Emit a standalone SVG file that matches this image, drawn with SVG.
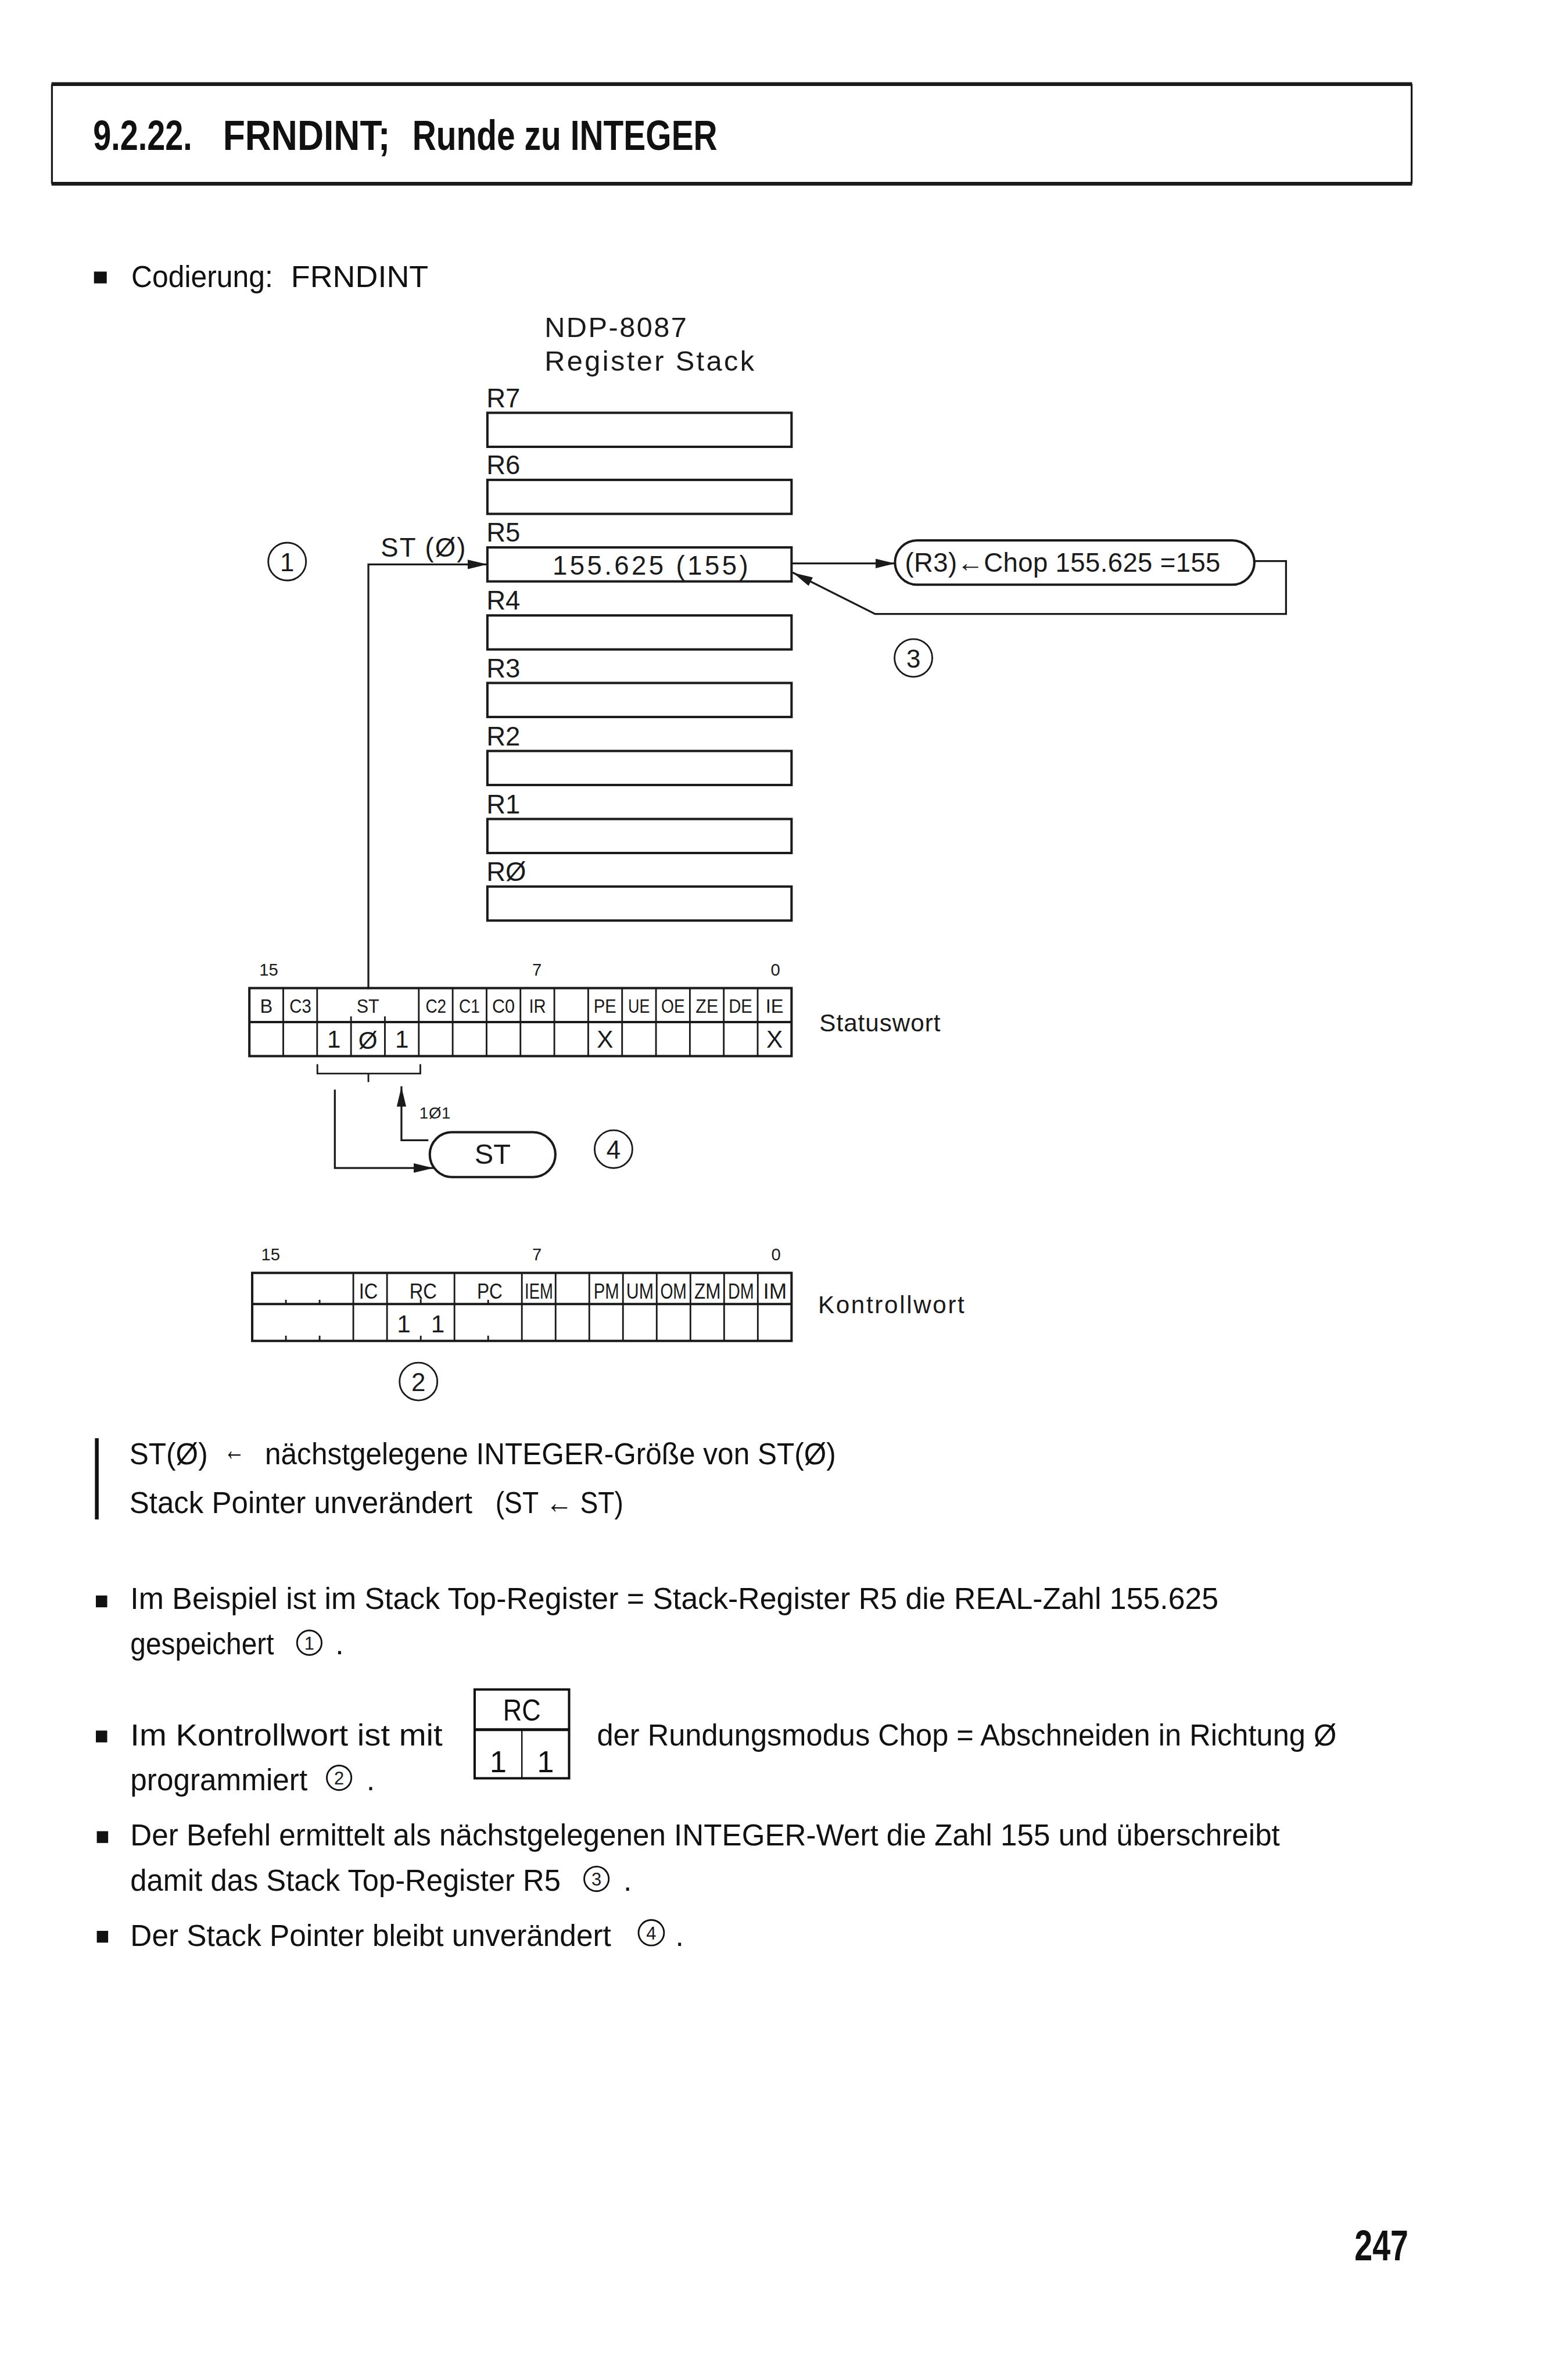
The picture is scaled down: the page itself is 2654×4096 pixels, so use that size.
<svg xmlns="http://www.w3.org/2000/svg" width="2654" height="4096" viewBox="0 0 2654 4096">
<defs>
<style>
.ln{fill:none;stroke:#1a1a1a;stroke-width:4;stroke-linecap:square}
.bx{fill:#fff;stroke:#1a1a1a;stroke-width:5}
.thin{fill:none;stroke:#1a1a1a;stroke-width:3.5}
.d{font-family:"Liberation Sans",Arial,sans-serif;fill:#1a1a1a}
.b{font-family:"Liberation Sans",Arial,sans-serif;fill:#111;font-size:64px}
.tt{font-family:"Liberation Sans",Arial,sans-serif;font-weight:bold;fill:#111}
.c{text-anchor:middle}
</style>
<marker id="ah" viewBox="0 0 42 20" refX="41" refY="10" markerWidth="42" markerHeight="20" orient="auto" markerUnits="userSpaceOnUse"><path d="M0,0 L42,10 L0,20 z" fill="#1a1a1a"/></marker>
</defs>
<rect width="2654" height="4096" fill="#fff"/>
<g transform="scale(0.812864)">

<g id="title">
<line x1="109" y1="178" x2="2990" y2="178" stroke="#1a1a1a" stroke-width="8"/>
<line x1="109" y1="389" x2="2990" y2="389" stroke="#1a1a1a" stroke-width="8"/>
<line x1="110" y1="178" x2="110" y2="389" stroke="#1a1a1a" stroke-width="4"/>
<line x1="2989" y1="178" x2="2989" y2="389" stroke="#1a1a1a" stroke-width="4"/>
<text class="tt" x="197" y="318" font-size="90" textLength="210" lengthAdjust="spacingAndGlyphs">9.2.22.</text>
<text class="tt" x="472" y="318" font-size="90" textLength="354" lengthAdjust="spacingAndGlyphs">FRNDINT;</text>
<text class="tt" x="873" y="318" font-size="90" textLength="646" lengthAdjust="spacingAndGlyphs">Runde zu INTEGER</text>
</g>

<g id="codierung">
<rect x="199" y="575" width="27" height="25" fill="#111"/>
<text class="b" x="278" y="608" textLength="300" lengthAdjust="spacingAndGlyphs">Codierung:</text>
<text class="b" x="616" y="608" textLength="291" lengthAdjust="spacingAndGlyphs">FRNDINT</text>
</g>

<g id="stack-title">
<text class="d" x="1153" y="713" font-size="60" textLength="301" lengthAdjust="spacing">NDP-8087</text>
<text class="d" x="1153" y="785" font-size="60" textLength="444" lengthAdjust="spacing">Register Stack</text>
</g>

<g id="reg-R7"><text class="d" x="1030" y="862" font-size="56">R7</text><rect class="bx" x="1032" y="874" width="644" height="72"/></g>
<g id="reg-R6"><text class="d" x="1030" y="1004" font-size="56">R6</text><rect class="bx" x="1032" y="1016" width="644" height="72"/></g>
<g id="reg-R5"><text class="d" x="1030" y="1147" font-size="56">R5</text><rect class="bx" x="1032" y="1159" width="644" height="72"/>
<text class="d" x="1170" y="1217" font-size="56" textLength="414" lengthAdjust="spacing">155.625 (155)</text></g>
<g id="reg-R4"><text class="d" x="1030" y="1291" font-size="56">R4</text><rect class="bx" x="1032" y="1303" width="644" height="72"/></g>
<g id="reg-R3"><text class="d" x="1030" y="1434" font-size="56">R3</text><rect class="bx" x="1032" y="1446" width="644" height="72"/></g>
<g id="reg-R2"><text class="d" x="1030" y="1578" font-size="56">R2</text><rect class="bx" x="1032" y="1590" width="644" height="72"/></g>
<g id="reg-R1"><text class="d" x="1030" y="1722" font-size="56">R1</text><rect class="bx" x="1032" y="1734" width="644" height="72"/></g>
<g id="reg-R0"><text class="d" x="1030" y="1865" font-size="56">RØ</text><rect class="bx" x="1032" y="1877" width="644" height="72"/></g>

<g id="st0-label"><text class="d" x="806" y="1178" font-size="56" textLength="180" lengthAdjust="spacing">ST (Ø)</text></g>
<g id="mark1"><circle cx="608" cy="1189" r="40" class="thin"/><text class="d c" x="608" y="1209" font-size="54">1</text></g>

<g id="chop-op"><rect class="bx" x="1895" y="1144" width="761" height="94" rx="47" ry="47" stroke-width="4"/>
<text class="d" x="1916" y="1211" font-size="56" textLength="668" lengthAdjust="spacing">(R3)←Chop 155.625 =155</text></g>
<g id="mark3"><circle cx="1934" cy="1393" r="40" class="thin"/><text class="d c" x="1934" y="1413" font-size="54">3</text></g>

<g id="statuswort">
<text class="d c" x="569" y="2066" font-size="36">15</text>
<text class="d c" x="1137" y="2066" font-size="36">7</text>
<text class="d c" x="1642" y="2066" font-size="36">0</text>
<rect class="bx" x="528" y="2092" width="1148" height="144"/>
<line x1="528" y1="2164" x2="1676" y2="2164" stroke="#1a1a1a" stroke-width="5"/>
<path class="thin" d="M599.75,2092V2236 M671.5,2092V2236 M743.25,2152V2236 M815,2152V2236 M886.75,2092V2236 M958.5,2092V2236 M1030.25,2092V2236 M1102,2092V2236 M1173.75,2092V2236 M1245.5,2092V2236 M1317.25,2092V2236 M1389,2092V2236 M1460.75,2092V2236 M1532.5,2092V2236 M1604.25,2092V2236"/>
<g class="d c" font-size="40">
<text x="564" y="2144">B</text><text x="636" y="2144" textLength="46" lengthAdjust="spacingAndGlyphs">C3</text><text x="779" y="2144" textLength="48" lengthAdjust="spacingAndGlyphs">ST</text>
<text x="923" y="2144" textLength="44" lengthAdjust="spacingAndGlyphs">C2</text><text x="994" y="2144" textLength="44" lengthAdjust="spacingAndGlyphs">C1</text><text x="1066" y="2144" textLength="48" lengthAdjust="spacingAndGlyphs">C0</text><text x="1138" y="2144" textLength="36" lengthAdjust="spacingAndGlyphs">IR</text>
<text x="1281" y="2144" textLength="48" lengthAdjust="spacingAndGlyphs">PE</text><text x="1353" y="2144" textLength="46" lengthAdjust="spacingAndGlyphs">UE</text><text x="1425" y="2144" textLength="50" lengthAdjust="spacingAndGlyphs">OE</text><text x="1497" y="2144" textLength="48" lengthAdjust="spacingAndGlyphs">ZE</text><text x="1568" y="2144" textLength="50" lengthAdjust="spacingAndGlyphs">DE</text><text x="1640" y="2144" textLength="38" lengthAdjust="spacingAndGlyphs">IE</text>
</g>
<g class="d c" font-size="52">
<text x="707" y="2218">1</text><text x="779" y="2220">Ø</text><text x="851" y="2218">1</text>
<text x="1281" y="2218">X</text><text x="1640" y="2218">X</text>
</g>
<text class="d" x="1735" y="2184" font-size="52" textLength="256" lengthAdjust="spacing">Statuswort</text>
</g>

<g id="st-bracket"><path class="thin" d="M672,2253V2273H890V2253 M780,2273V2291"/>
<text class="d" x="888" y="2368" font-size="34" textLength="66" lengthAdjust="spacing">1Ø1</text></g>

<g id="st-op"><rect class="bx" x="910" y="2397" width="266" height="95" rx="47.5" ry="47.5" stroke-width="4"/>
<text class="d c" x="1043" y="2464" font-size="60">ST</text></g>
<g id="mark4"><circle cx="1299" cy="2433" r="40" class="thin"/><text class="d c" x="1299" y="2453" font-size="54">4</text></g>

<g id="kontrollwort">
<text class="d c" x="573" y="2668" font-size="36">15</text>
<text class="d c" x="1137" y="2668" font-size="36">7</text>
<text class="d c" x="1643" y="2668" font-size="36">0</text>
<rect class="bx" x="534" y="2695" width="1142" height="144"/>
<line x1="534" y1="2761" x2="1676" y2="2761" stroke="#1a1a1a" stroke-width="5"/>
<path class="thin" d="M748.1,2695V2839 M819.5,2695V2839 M962.25,2695V2839 M1105,2695V2839 M1176.4,2695V2839 M1247.75,2695V2839 M1319.1,2695V2839 M1390.5,2695V2839 M1461.9,2695V2839 M1533.25,2695V2839 M1604.6,2695V2839"/>
<path class="thin" d="M605.4,2752V2761 M676.75,2752V2761 M890.9,2750V2761 M1033.6,2752V2761 M605.4,2828V2839 M676.75,2828V2839 M890.9,2828V2839 M1033.6,2828V2839"/>
<g class="d c" font-size="46">
<text x="780" y="2749" textLength="40" lengthAdjust="spacingAndGlyphs">IC</text><text x="896" y="2749" textLength="58" lengthAdjust="spacingAndGlyphs">RC</text><text x="1037" y="2749" textLength="54" lengthAdjust="spacingAndGlyphs">PC</text><text x="1141" y="2749" textLength="60" lengthAdjust="spacingAndGlyphs">IEM</text>
<text x="1284" y="2749" textLength="54" lengthAdjust="spacingAndGlyphs">PM</text><text x="1355" y="2749" textLength="58" lengthAdjust="spacingAndGlyphs">UM</text><text x="1426" y="2749" textLength="56" lengthAdjust="spacingAndGlyphs">OM</text><text x="1498" y="2749" textLength="56" lengthAdjust="spacingAndGlyphs">ZM</text><text x="1569" y="2749" textLength="55" lengthAdjust="spacingAndGlyphs">DM</text><text x="1641" y="2749" textLength="50" lengthAdjust="spacingAndGlyphs">IM</text>
</g>
<g class="d c" font-size="52"><text x="855" y="2821">1</text><text x="927" y="2821">1</text></g>
<text class="d" x="1732" y="2780" font-size="52" textLength="310" lengthAdjust="spacing">Kontrollwort</text>
</g>
<g id="mark2"><circle cx="886" cy="2925" r="40" class="thin"/><text class="d c" x="886" y="2945" font-size="54">2</text></g>

<g id="connectors">
<path class="ln" d="M780,2092V1195H1031" marker-end="url(#ah)" stroke-width="3.5"/>
<path class="ln" d="M1677,1193H1895" marker-end="url(#ah)" stroke-width="3.5"/>
<path class="ln" d="M2656,1188H2723V1300H1853L1680,1213" marker-end="url(#ah)" stroke-width="3.5" stroke-linejoin="miter"/>
<path class="ln" d="M709,2309V2473H917" marker-end="url(#ah)" stroke-width="3.5"/>
<path class="ln" d="M905,2414H850V2302" marker-end="url(#ah)" stroke-width="3.5"/>
</g>

<g id="text-formula">
<rect x="201" y="3045" width="8" height="172" fill="#111"/>
<text class="b" x="274" y="3100" textLength="166" lengthAdjust="spacingAndGlyphs">ST(Ø)</text>
<text class="b" x="474" y="3092" font-size="48" textLength="44" lengthAdjust="spacingAndGlyphs">←</text>
<text class="b" x="561" y="3100" textLength="1209" lengthAdjust="spacingAndGlyphs">nächstgelegene INTEGER-Größe von ST(Ø)</text>
<text class="b" x="274" y="3203" textLength="726" lengthAdjust="spacingAndGlyphs">Stack Pointer unverändert</text>
<text class="b" x="1049" y="3203" textLength="271" lengthAdjust="spacingAndGlyphs">(ST ← ST)</text>
</g>

<g id="bullet1">
<rect x="203" y="3378" width="24" height="25" fill="#111"/>
<text class="b" x="276" y="3407" textLength="2304" lengthAdjust="spacingAndGlyphs">Im Beispiel ist im Stack Top-Register = Stack-Register R5 die REAL-Zahl 155.625</text>
<text class="b" x="276" y="3503" textLength="304" lengthAdjust="spacingAndGlyphs">gespeichert</text>
<circle cx="655" cy="3478" r="26" fill="none" stroke="#111" stroke-width="3.5"/><text class="d c" x="655" y="3492" font-size="38">1</text>
<text class="b" x="710" y="3503">.</text>
</g>

<g id="bullet2">
<rect x="203" y="3664" width="24" height="25" fill="#111"/>
<text class="b" x="276" y="3695" textLength="661" lengthAdjust="spacingAndGlyphs">Im Kontrollwort ist mit</text>
<rect x="1005" y="3577" width="200" height="188" fill="none" stroke="#111" stroke-width="5"/>
<line x1="1005" y1="3662" x2="1205" y2="3662" stroke="#111" stroke-width="6"/>
<line x1="1105" y1="3662" x2="1105" y2="3765" stroke="#111" stroke-width="3"/>
<text class="b c" x="1105" y="3643" font-size="68" textLength="80" lengthAdjust="spacingAndGlyphs">RC</text>
<text class="b c" x="1055" y="3752" font-size="68">1</text><text class="b c" x="1155" y="3752" font-size="68">1</text>
<text class="b" x="1264" y="3695" textLength="1566" lengthAdjust="spacingAndGlyphs">der Rundungsmodus Chop = Abschneiden in Richtung Ø</text>
<text class="b" x="276" y="3790" textLength="375" lengthAdjust="spacingAndGlyphs">programmiert</text>
<circle cx="718" cy="3764" r="26" fill="none" stroke="#111" stroke-width="3.5"/><text class="d c" x="718" y="3778" font-size="38">2</text>
<text class="b" x="776" y="3790">.</text>
</g>

<g id="bullet3">
<rect x="205" y="3877" width="24" height="25" fill="#111"/>
<text class="b" x="276" y="3907" textLength="2434" lengthAdjust="spacingAndGlyphs">Der Befehl ermittelt als nächstgelegenen INTEGER-Wert die Zahl 155 und überschreibt</text>
<text class="b" x="276" y="4003" textLength="911" lengthAdjust="spacingAndGlyphs">damit das Stack Top-Register R5</text>
<circle cx="1263" cy="3978" r="26" fill="none" stroke="#111" stroke-width="3.5"/><text class="d c" x="1263" y="3992" font-size="38">3</text>
<text class="b" x="1320" y="4003">.</text>
</g>

<g id="bullet4">
<rect x="205" y="4088" width="24" height="25" fill="#111"/>
<text class="b" x="276" y="4120" textLength="1018" lengthAdjust="spacingAndGlyphs">Der Stack Pointer bleibt unverändert</text>
<circle cx="1379" cy="4092" r="27" fill="none" stroke="#111" stroke-width="3.5"/><text class="d c" x="1379" y="4106" font-size="38">4</text>
<text class="b" x="1430" y="4120">.</text>
</g>

<g id="page-number">
<text class="tt" x="2868" y="4786" font-size="92" textLength="114" lengthAdjust="spacingAndGlyphs">247</text>
</g>
</g>
</svg>
